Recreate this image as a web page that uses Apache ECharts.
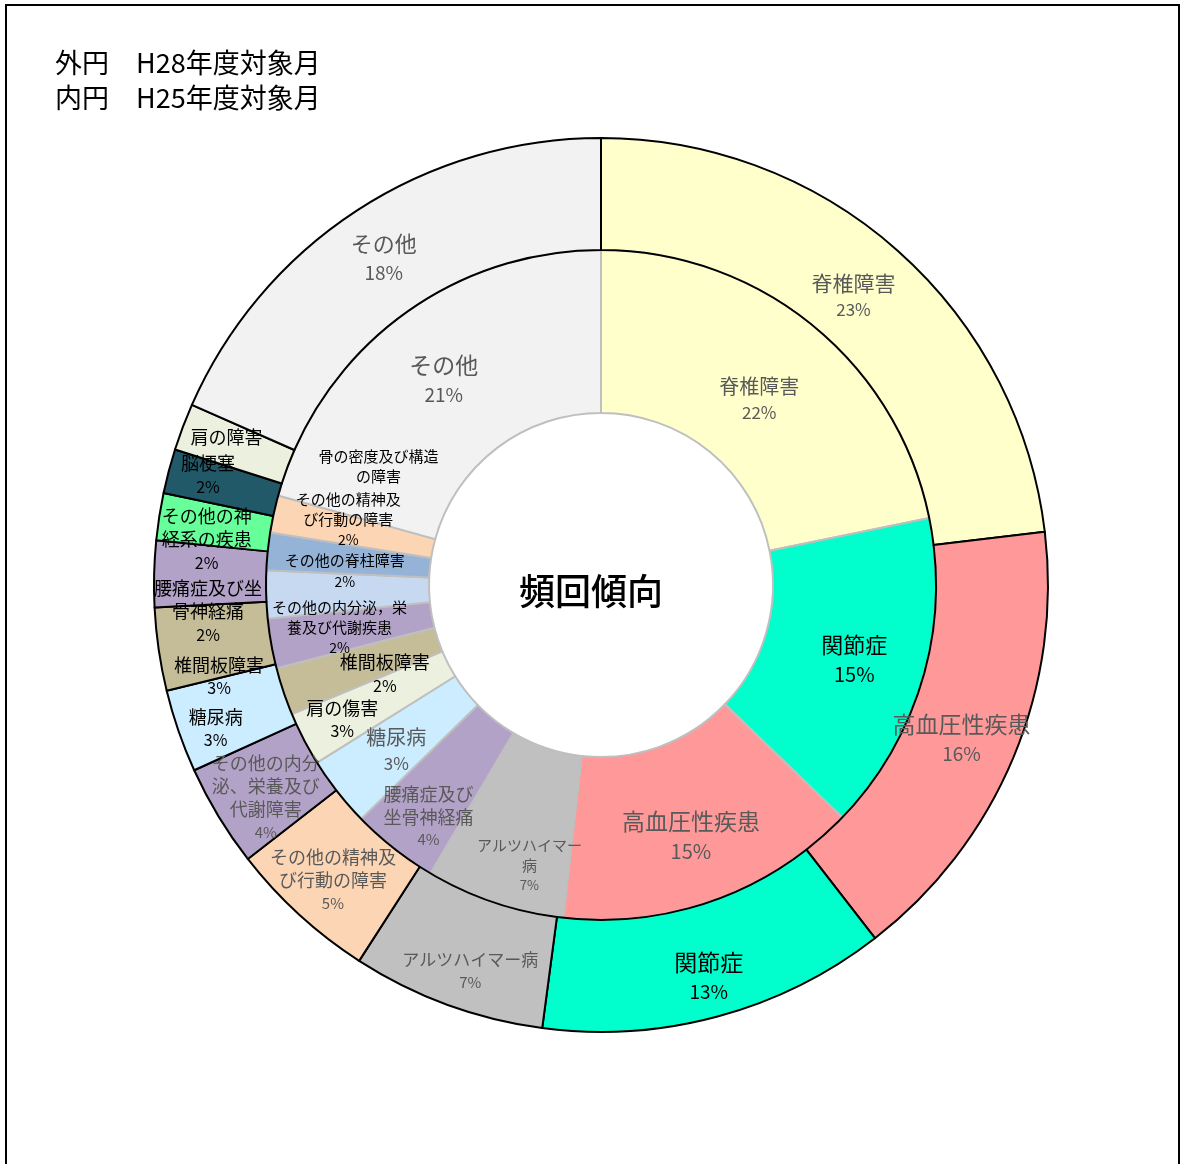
<!DOCTYPE html>
<html>
<head>
<meta charset="utf-8">
<script src="https://cdn.jsdelivr.net/npm/echarts@6/dist/echarts.min.js"></script>
<style>
html,body{margin:0;padding:0;width:1182px;height:1164px;overflow:hidden;background:#fff;}
#frame{position:absolute;left:5px;top:4px;width:1171px;height:1200px;border:2px solid #000;}
#chart{position:absolute;left:0;top:0;width:1182px;height:1164px;}
</style>
</head>
<body>
<div id="frame"></div>
<div id="chart"></div>
<script>
// ---- Data ----
const outerNames = ['脊椎障害','高血圧性疾患','関節症','アルツハイマー病','その他の精神及び行動の障害','その他の内分泌、栄養及び代謝障害','糖尿病','椎間板障害','腰痛症及び坐骨神経痛','その他の神経系の疾患','脳梗塞','肩の障害','その他'];
const outerValues = [23.1,16.4,12.6,7.0,5.4,3.7,3.0,3.0,2.4,1.7,1.6,1.7,18.4];
const outerLabelText = ['脊椎障害','高血圧性疾患','関節症','アルツハイマー病','その他の精神及\nび行動の障害','その他の内分\n泌、栄養及び\n代謝障害','糖尿病','椎間板障害','腰痛症及び坐\n骨神経痛','その他の神\n経系の疾患','脳梗塞','肩の障害','その他'];
const outerShowPct = [true,true,true,true,true,true,true,true,true,true,true,false,true];

const innerNames = ['脊椎障害','関節症','高血圧性疾患','アルツハイマー病','腰痛症及び坐骨神経痛','糖尿病','肩の傷害','椎間板障害','その他の内分泌，栄養及び代謝疾患','骨の密度及び構造の障害','その他の脊柱障害','その他の精神及び行動の障害','その他'];
const innerValues = [21.8,15.4,14.6,6.7,4.2,3.4,2.6,2.3,2.4,2.3,1.8,1.8,20.7];
const innerLabelText = ['脊椎障害','関節症','高血圧性疾患','アルツハイマー\n病','腰痛症及び\n坐骨神経痛','糖尿病','肩の傷害','椎間板障害','その他の内分泌，栄\n養及び代謝疾患','骨の密度及び構造\nの障害','その他の脊柱障害','その他の精神及\nび行動の障害','その他'];
const innerShowPct = [true,true,true,true,true,true,true,true,true,false,true,true,true];

const titleLines = ['外円　H28年度対象月','内円　H25年度対象月'];
const centerText = '頻回傾向';

// ---- Styles ----
const outerColors = ['#FFFFCC','#FF9999','#00FFCC','#C0C0C0','#FCD5B5','#B3A2C7','#CCECFF','#C4BD97','#B3A2C7','#66FF99','#215968','#EBF1DE','#F2F2F2'];
const innerColors = ['#FFFFCC','#00FFCC','#FF9999','#C0C0C0','#B3A2C7','#CCECFF','#EBF1DE','#C4BD97','#B3A2C7','#C6D9F1','#95B3D7','#FCD5B5','#F2F2F2'];
const G = '#595959', K = '#000000';
const outerTextColors = [G,G,K,G,G,G,K,K,K,K,K,K,G];
const innerTextColors = [G,K,G,G,G,G,K,K,K,K,K,K,G];
const outerNameSize = [21,23,23,17,18,18,18,18,18,18,18,18,22];
const outerPctSize  = [17,19,19,15,15,15,16,16,16,16,16,16,19];
const innerNameSize = [20,22,23,15,18,20,18,18,15,15,15,15,23];
const innerPctSize  = [17,20,20,13,15,17,16,16,14,14,14,14,19];
const outerOffsets = [[-9,6],[-3,2],[5,11],[5,16],[-2,5],[2,9],[-13,15],[8,35],[1,37],[-5,15],[-12,-9],[-6,-9],[-2,3]];
const innerOffsets = [[-4,13],[7,3],[3,10],[10,37],[-14,30],[-3,7],[-31,17],[27,8],[-9,-2],[34,-126],[-1,12],[-2,-11],[-2,-1]];

function buildData(names, values, texts, showPct, colors, tColors, nSize, pSize) {
  return names.map((n, i) => ({
    name: n,
    value: values[i],
    itemStyle: { color: colors[i] },
    label: {
      formatter: (p) => {
        let s = texts[i].split('\n').map(t => '{n|' + t + '}').join('\n');
        if (showPct[i]) s += '\n{p|' + Math.round(p.percent) + '%}';
        return s;
      },
      rich: {
        n: { fontSize: nSize[i], color: tColors[i], lineHeight: Math.round(nSize[i] * 1.3), fontFamily: 'Noto Sans CJK JP' },
        p: { fontSize: pSize[i], color: tColors[i], lineHeight: Math.round(pSize[i] * 1.5), fontFamily: 'Noto Sans CJK JP' }
      }
    }
  }));
}

const chart = echarts.init(document.getElementById('chart'), null, { renderer: 'canvas' });
chart.setOption({
  animation: false,
  title: {
    text: titleLines.join('\n'),
    left: 50, top: 40,
    textStyle: { fontSize: 27, fontWeight: 'normal', color: '#000', lineHeight: 35, fontFamily: 'Noto Sans CJK JP' }
  },
  graphic: [{
    type: 'text', left: 519, top: 573,
    style: { text: centerText, fontSize: 36, fill: '#000', fontFamily: 'Noto Sans CJK JP', fontWeight: 500 }
  }],
  series: [
    {
      type: 'pie', name: 'H25', center: [601, 585], radius: [172, 335],
      startAngle: 90, clockwise: true, avoidLabelOverlap: false,
      silent: true,
      itemStyle: { borderColor: '#BFBFBF', borderWidth: 2 },
      label: { show: true, position: 'inside', align: 'center' },
      labelLine: { show: false },
      labelLayout: (p) => ({ dx: innerOffsets[p.dataIndex][0], dy: innerOffsets[p.dataIndex][1] }),
      data: buildData(innerNames, innerValues, innerLabelText, innerShowPct, innerColors, innerTextColors, innerNameSize, innerPctSize),
      z: 1
    },
    {
      type: 'pie', name: 'H28', center: [601, 585], radius: [335, 447],
      startAngle: 90, clockwise: true, avoidLabelOverlap: false,
      silent: true,
      itemStyle: { borderColor: '#000', borderWidth: 2 },
      label: { show: true, position: 'inside', align: 'center' },
      labelLine: { show: false },
      labelLayout: (p) => ({ dx: outerOffsets[p.dataIndex][0], dy: outerOffsets[p.dataIndex][1] }),
      data: buildData(outerNames, outerValues, outerLabelText, outerShowPct, outerColors, outerTextColors, outerNameSize, outerPctSize),
      z: 2
    }
  ]
});
</script>
</body>
</html>
